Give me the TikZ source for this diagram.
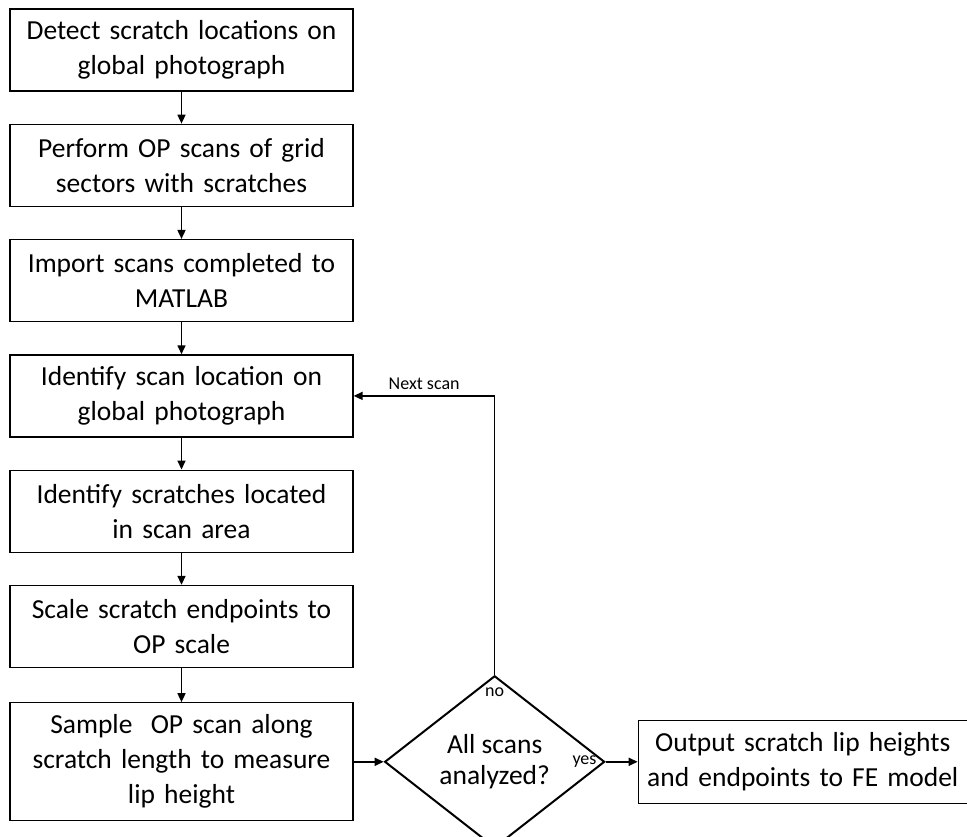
\documentclass[tikz,border=0pt]{standalone}
\usepackage{fontspec}
\setmainfont{Carlito}
\usetikzlibrary{positioning,shapes.geometric,arrows.meta}
\tikzset{
  stepbox/.style={rectangle,draw=black,line width=1.3pt,fill=white,
    align=center,minimum height=#1,text width=330pt,minimum width=343pt,
    inner sep=0pt,font=\fontsize{27.5}{35}\selectfont},
  stepbox/.default=82pt,
  decision/.style={diamond,draw=black,line width=2pt,align=center,
    minimum width=220pt,minimum height=172pt,inner sep=0pt,
    font=\fontsize{27.5}{31}\selectfont},
  arrow/.style={-{Triangle[length=9pt,width=8pt]},draw=black,line width=1.6pt},
  note/.style={font=\fontsize{18}{20}\selectfont,inner sep=1pt}
}
\begin{document}
\begin{tikzpicture}[node distance=32pt and 30pt]
  \useasboundingbox (0,0) rectangle (967pt,-837pt);
  \node[stepbox] (detect) at (181.5pt,-50pt)
    {Detect scratch locations on\\global photograph};
  \node[stepbox, below=of detect] (perform)
    {Perform OP scans of grid\\sectors with scratches};
  \node[stepbox, below=of perform] (import)
    {Import scans completed to\\MATLAB};
  \node[stepbox, below=of import] (locate)
    {Identify scan location on\\global photograph};
  \node[stepbox, below=of locate] (identify)
    {Identify scratches located\\in scan area};
  \node[stepbox, below=of identify] (scale)
    {Scale scratch endpoints to\\OP scale};
  \node[stepbox=118pt, below=34pt of scale] (sample)
    {Sample\ \ OP scan along\\scratch length to measure\\lip height};
  \node[decision, right=30pt of sample] (check)
    {All scans\\analyzed?};
  \node[stepbox, text width=325pt, minimum width=329pt, minimum height=83pt,
    right=32pt of check] (output)
    {Output scratch lip heights\\and endpoints to FE model};
  \node[note, below=12pt of check.north] (no) {no};
  \node[note, left=8pt of check.east] (yes) {yes};
  \draw[arrow] (detect)   -- (perform);
  \draw[arrow] (perform)  -- (import);
  \draw[arrow] (import)   -- (locate);
  \draw[arrow] (locate)   -- (identify);
  \draw[arrow] (identify) -- (scale);
  \draw[arrow] (scale)    -- (sample);
  \draw[arrow] (sample)   -- (check);
  \draw[arrow] (check)    -- (output);
  \draw[arrow] (check.north) |- node[note,pos=0.75,above=4pt]{Next scan} (locate.east);
\end{tikzpicture}
\end{document}
